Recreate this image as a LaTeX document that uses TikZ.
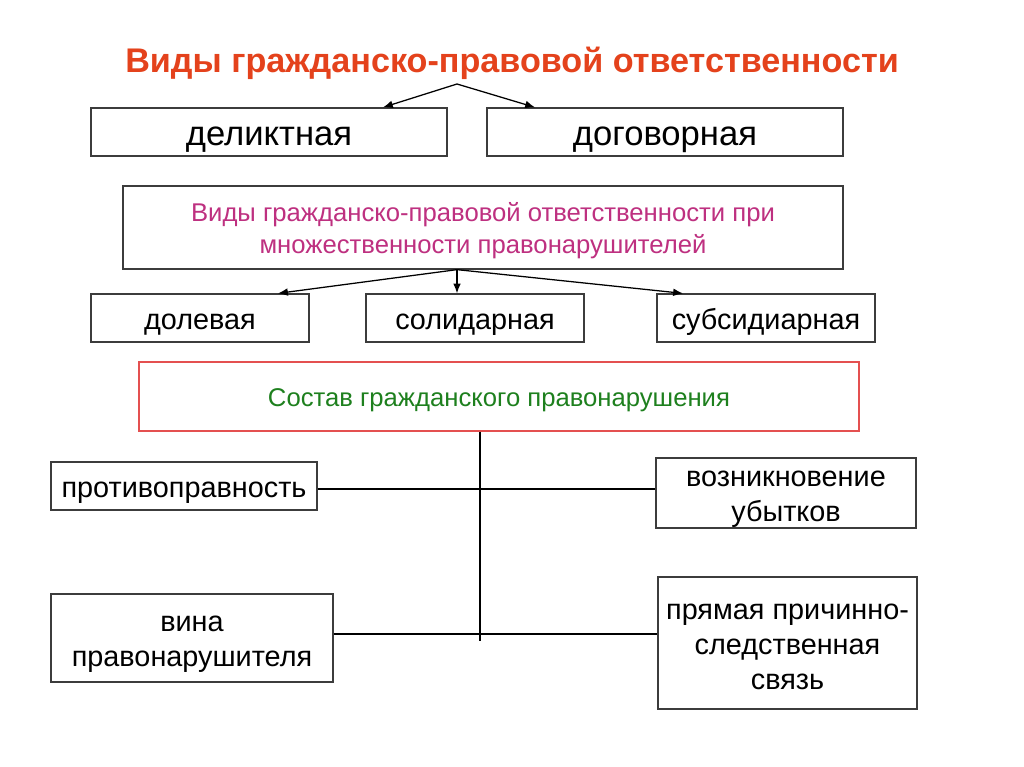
\documentclass[tikz,border=0pt]{standalone}
\usepackage{fontspec}
\setmainfont{Liberation Sans}
\usepackage{tikz}
\usetikzlibrary{arrows.meta}

\definecolor{titlered}{RGB}{228,66,28}
\definecolor{magentatext}{RGB}{190,48,128}
\definecolor{greentext}{RGB}{30,128,30}
\definecolor{redframe}{RGB}{228,80,80}
\definecolor{framegray}{RGB}{60,60,60}
\newcommand{\boxstrut}{\rule[-0.212em]{0pt}{1.2em}}

\begin{document}
\begin{tikzpicture}[x=0.025cm, y=-0.025cm,
        box/.style={draw=framegray, line width=0.9pt, align=center, inner sep=0pt},
        big/.style={font=\fontsize{24.6}{28.5}\selectfont},
        mid/.style={font=\fontsize{20.5}{24.8}\selectfont},
        small/.style={font=\fontsize{18.25}{20.6}\selectfont},
        arr/.style={-{Latex[length=7pt,width=5.5pt]}, line width=0.9pt}]
        \useasboundingbox[fill=white] (0,0) rectangle (1024,767);

        \node[font=\fontsize{24.3}{28}\selectfont\bfseries, text=titlered, anchor=base] (title) at (512,73) {Виды гражданско-правовой ответственности};

        \node[box, big, minimum width=8.9cm, minimum height=1.2cm] (delikt) at (269,132) {\boxstrut деликтная};
        \node[box, big, minimum width=8.9cm, minimum height=1.2cm] (dogovor) at (665,132) {\boxstrut договорная};

        \node[box, small, text=magentatext, minimum width=18cm, minimum height=2.075cm] (mnozh) at (483,227.5)
            {\boxstrut Виды гражданско-правовой ответственности при\\множественности правонарушителей\boxstrut};

        \node[box, mid, minimum width=5.45cm, minimum height=1.2cm] (dolev) at (200,318) {\boxstrut долевая};
        \node[box, mid, minimum width=5.45cm, minimum height=1.2cm] (solid) at (475,318) {\boxstrut солидарная};
        \node[box, mid, minimum width=5.45cm, minimum height=1.2cm] (subsid) at (766,318) {\boxstrut субсидиарная};

        \node[box, small, draw=redframe, text=greentext, minimum width=18cm, minimum height=1.725cm] (sostav) at (499,396.5)
            {\boxstrut Состав гражданского правонарушения};

        \node[box, mid, minimum width=6.65cm, minimum height=1.2cm] (protiv) at (184,486) {\boxstrut противоправность};
        \node[box, mid, minimum width=6.5cm, minimum height=1.75cm] (vozn) at (786,493) {\boxstrut возникновение\\убытков\boxstrut};
        \node[box, mid, minimum width=7.05cm, minimum height=2.2cm] (vina) at (192,638) {\boxstrut вина\\правонарушителя\boxstrut};
        \node[box, mid, minimum width=6.475cm, minimum height=3.3cm] (pryam) at (787.5,643) {\boxstrut прямая причинно-\\следственная\\связь\boxstrut};

        % arrows
        \coordinate (split) at (457,84);
        \coordinate (tipA) at (383,0);
        \coordinate (tipB) at (535,0);
        \draw[arr] (split) -- (delikt.north -| tipA);
        \draw[arr] (split) -- (dogovor.north -| tipB);

        \coordinate (fork) at (457,0);
        \coordinate (tipC) at (278,0);
        \coordinate (tipD) at (683,0);
        \draw[arr] (mnozh.south -| fork) -- (dolev.north -| tipC);
        \draw[arr] (mnozh.south -| fork) -- (solid.north -| fork);
        \draw[arr] (mnozh.south -| fork) -- (subsid.north -| tipD);

        % lines
        \coordinate (stem) at (480,641);
        \draw[line width=0.9pt] (sostav.south -| stem) -- (stem);
        \draw[line width=0.9pt] (protiv.east |- 0,489) -- (vozn.west |- 0,489);
        \draw[line width=0.9pt] (vina.east |- 0,634) -- (pryam.west |- 0,634);
    \end{tikzpicture}
\end{document}
